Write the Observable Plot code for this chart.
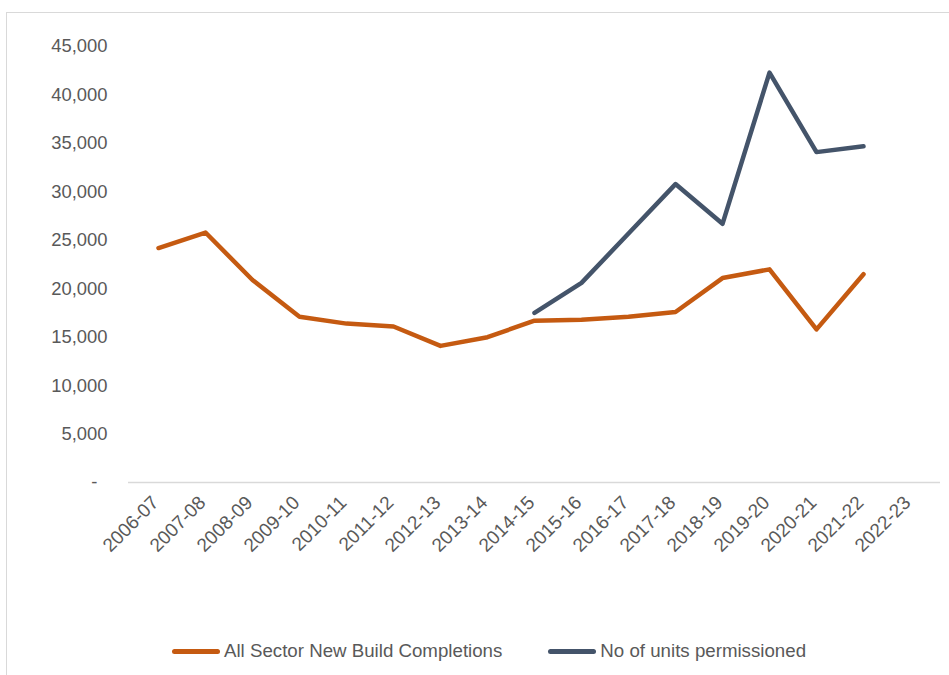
<!DOCTYPE html>
<html><head><meta charset="utf-8">
<script src="https://cdn.jsdelivr.net/npm/d3@7"></script>
<script src="https://cdn.jsdelivr.net/npm/@observablehq/plot@0.6"></script>
<style>
body{margin:0;background:#fff;font-family:"Liberation Sans",Arial,sans-serif;}
#frame{position:absolute;left:6px;top:12px;width:943px;height:663px;border-top:1px solid #d9d9d9;border-left:1px solid #d9d9d9;box-sizing:border-box;}
#chart svg{display:block;}
#legend{display:flex;align-items:center;padding-left:165px;height:56px;color:#595959;font-size:18.7px;}
.item{display:flex;align-items:center;}
.sw{width:48px;height:5px;border-radius:3px;margin-right:4px;}
</style></head><body>
<div id="frame"><div id="chart"></div><div id="legend"></div></div>
<script>
const categories = ["2006-07","2007-08","2008-09","2009-10","2010-11","2011-12","2012-13","2013-14","2014-15","2015-16","2016-17","2017-18","2018-19","2019-20","2020-21","2021-22","2022-23"];
const completions = [24200,25800,20900,17100,16400,16100,14100,15000,16700,16800,17100,17600,21100,22000,15800,21500,null];
const permissioned = [null,null,null,null,null,null,null,null,17500,20600,25700,30800,26700,42300,34100,34700,null];
const yTicks = [0,5000,10000,15000,20000,25000,30000,35000,40000,45000];
const seriesNames = ["All Sector New Build Completions","No of units permissioned"];
const seriesColors = ["#C55A11","#44546A"];

const rowsA = categories.map((c,i)=>({cat:c, v:completions[i]}));
const rowsB = categories.map((c,i)=>({cat:c, v:permissioned[i]}));
const fmt = d3.format(",");

const chart = Plot.plot({
  width: 942, height: 610,
  marginLeft: 121, marginRight: 9, marginTop: 33, marginBottom: 141,
  style: {fontFamily: '"Liberation Sans", Arial, sans-serif', fontSize: "18px", color: "#595959", background: "#fff"},
  x: {type: "point", domain: categories, padding: 0.5},
  y: {domain: [0, 45000]},
  marks: [
    Plot.ruleY([0], {stroke: "#d9d9d9", strokeWidth: 1.5}),
    Plot.axisY({ticks: yTicks, tickFormat: d => d === 0 ? "-\u00a0\u00a0" : fmt(d), tickSize: 0, tickPadding: 21, label: null, fontSize: 18.4}),
    Plot.axisX({tickRotate: -45, tickSize: 0, tickPadding: 17, dx: -3, label: null, fontSize: 19}),
    Plot.line(rowsA, {x: "cat", y: "v", stroke: seriesColors[0], strokeWidth: 4.5}),
    Plot.line(rowsB, {x: "cat", y: "v", stroke: seriesColors[1], strokeWidth: 4.5})
  ]
});
document.getElementById("chart").appendChild(chart);

const legend = document.getElementById("legend");
seriesNames.forEach((name,i)=>{
  const it = document.createElement("div");
  it.className = "item";
  if (i > 0) it.style.marginLeft = "46px";
  const sw = document.createElement("div");
  sw.className = "sw"; sw.style.background = seriesColors[i];
  const t = document.createElement("span"); t.textContent = name;
  it.appendChild(sw); it.appendChild(t);
  legend.appendChild(it);
});
</script>
</body></html>
